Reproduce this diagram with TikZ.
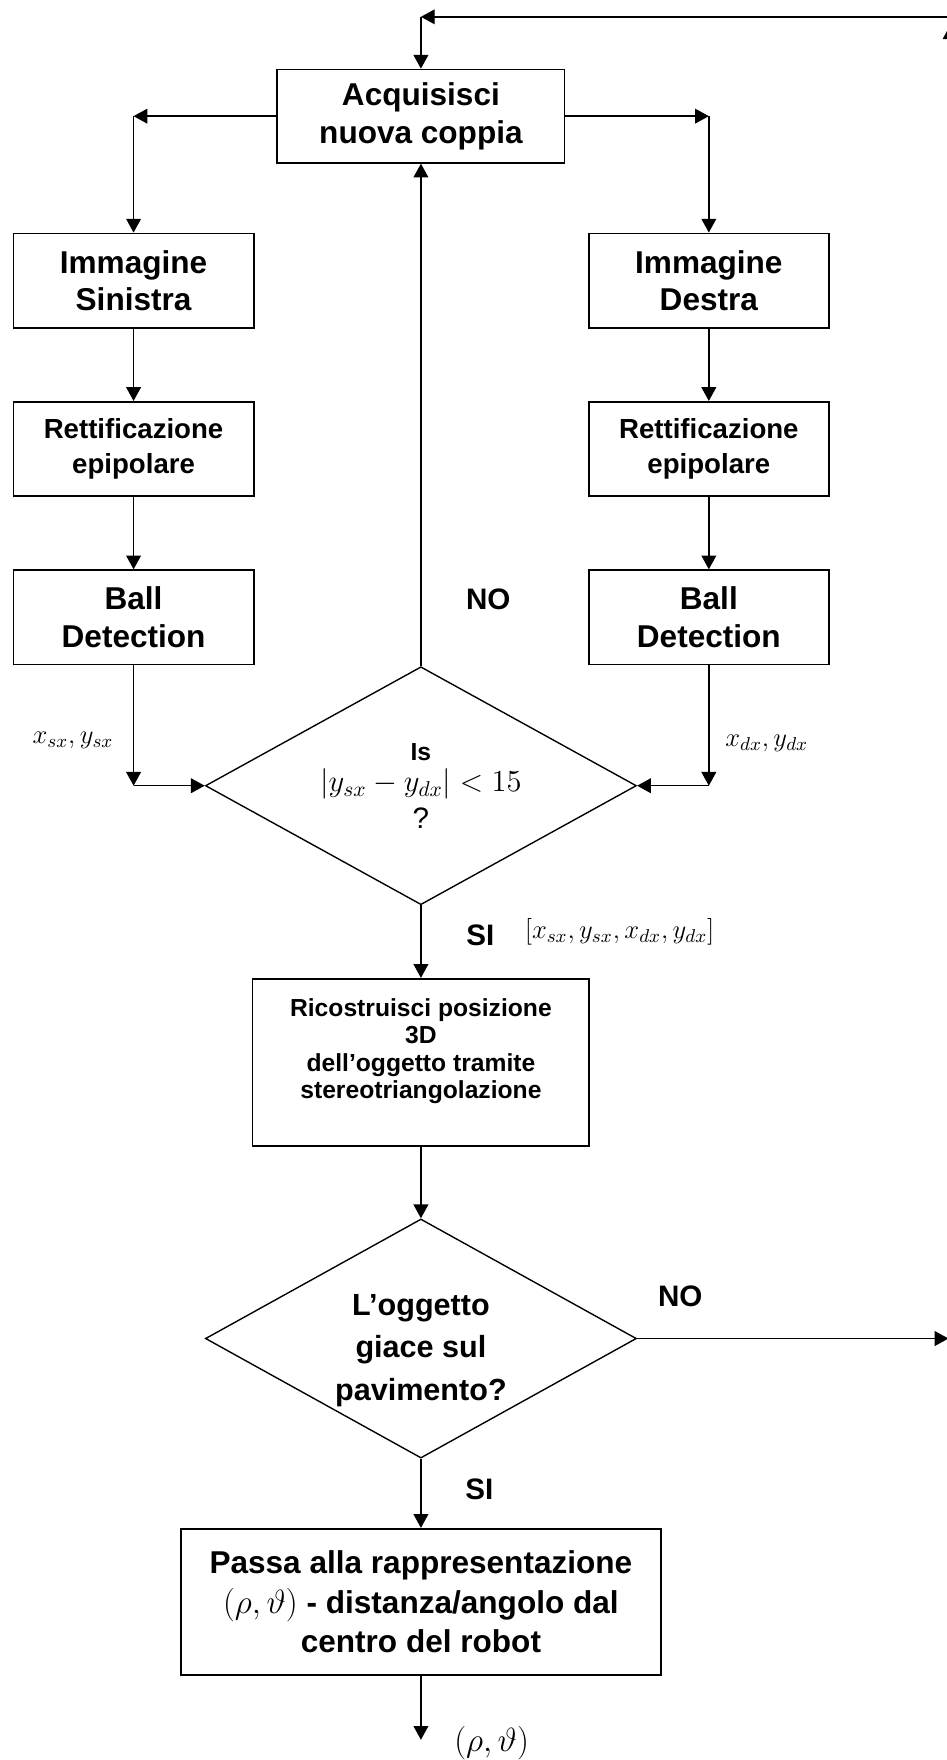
\documentclass[tikz,border=0pt]{standalone}
\usepackage{fix-cm}
\usepackage{amsmath,amssymb}
\usepackage{fontspec}
\setmainfont{Liberation Sans}
\usetikzlibrary{arrows.meta,shapes.geometric}

\begin{document}
\begin{tikzpicture}[x=1cm,y=1cm,>={Triangle[length=7pt,width=7.5pt]},
  bx/.style={draw,line width=0.9pt,rectangle,align=center,inner sep=2pt},
  dm/.style={draw,line width=0.7pt,diamond,aspect=1.81,inner sep=0pt,align=center,
    minimum width=7.68cm,minimum height=4.24cm},
  ln/.style={->,line width=0.7pt},
  big/.style={font=\fontsize{16}{19}\selectfont\bfseries},
  mid/.style={font=\fontsize{14}{18}\selectfont\bfseries},
  sml/.style={font=\fontsize{12.5}{14}\selectfont\bfseries},
  lb/.style={font=\fontsize{15}{18}\selectfont\bfseries},
  ml/.style={font=\fontsize{13.5}{16}\selectfont}]
  \useasboundingbox (0,0) rectangle (16.86,-31.36);

  % acquisition and the two image chains
  \node[bx,big,minimum width=5.12cm,minimum height=1.66cm] (acq) at (7.5,-2.07) {Acquisisci\\nuova coppia};
  \node[bx,big,minimum width=4.28cm,minimum height=1.68cm] (imgS) at (2.38,-5.0) {Immagine\\Sinistra};
  \node[bx,mid,minimum width=4.28cm,minimum height=1.68cm] (retS) at (2.38,-8.0) {Rettificazione\\epipolare};
  \node[bx,big,minimum width=4.28cm,minimum height=1.68cm] (ballS) at (2.38,-11.0) {Ball\\Detection};
  \node[bx,big,minimum width=4.28cm,minimum height=1.68cm] (imgD) at (12.63,-5.0) {Immagine\\Destra};
  \node[bx,mid,minimum width=4.28cm,minimum height=1.68cm] (retD) at (12.63,-8.0) {Rettificazione\\epipolare};
  \node[bx,big,minimum width=4.28cm,minimum height=1.68cm] (ballD) at (12.63,-11.0) {Ball\\Detection};

  % epipolar check, triangulation, floor test
  \node[dm] (cmp) at (7.5,-14.0) {{\fontsize{12.5}{14}\selectfont\bfseries Is}\\[4pt]
    {\fontsize{15.5}{18}\selectfont $\left|y_{sx}-y_{dx}\right|<15$}\\[3pt]
    {\fontsize{15}{18}\selectfont ?}};
  \node[bx,sml,minimum width=6.0cm,minimum height=2.98cm] (rec) at (7.5,-18.93)
    {Ricostruisci posizione\\3D\\dell’oggetto tramite\\stereotriangolazione\\ \mbox{}};
  \node[dm,minimum height=4.26cm] (flr) at (7.5,-23.85) {};
  \node[align=center,font=\fontsize{15.5}{21.5}\selectfont\bfseries] (flrT) at (7.5,-24.06)
    {L’oggetto\\giace sul\\pavimento?};
  \node[bx,big,font=\fontsize{16}{20}\selectfont\bfseries,minimum width=8.56cm,minimum height=2.6cm] (pas) at (7.5,-28.54)
    {Passa alla rappresentazione\\{\fontsize{17}{20}\selectfont$(\rho,\vartheta)$}\ - distanza/angolo dal\\centro del robot};

  % free ends of the connectors
  \coordinate (topL) at (7.5,-0.3);
  \coordinate (topR) at (16.93,-0.3);
  \coordinate (loopT) at (16.93,-0.45);
  \coordinate (loopB) at (16.93,-23.85);
  \coordinate (edgeR) at (16.9,-23.85);
  \coordinate (splitL) at (acq.west -| imgS.north);
  \coordinate (splitR) at (acq.east -| imgD.north);
  \coordinate (joinL) at (ballS.south |- cmp.west);
  \coordinate (joinR) at (ballD.south |- cmp.east);
  \coordinate (outP) at (7.5,-31.0);

  \draw[ln] (flr.east) -- (edgeR);
  \draw[ln] (loopB) -- (loopT);
  \draw[ln] (topR) -- (topL);
  \draw[ln] (topL) -- (acq.north);
  \draw[ln] (acq.west) -- (splitL);
  \draw[ln] (splitL) -- (imgS.north);
  \draw[ln] (acq.east) -- (splitR);
  \draw[ln] (splitR) -- (imgD.north);
  \draw[ln] (imgS) -- (retS);
  \draw[ln] (retS) -- (ballS);
  \draw[ln] (imgD) -- (retD);
  \draw[ln] (retD) -- (ballD);
  \draw[ln] (ballS.south) -- (joinL);
  \draw[ln] (joinL) -- (cmp.west);
  \draw[ln] (ballD.south) -- (joinR);
  \draw[ln] (joinR) -- (cmp.east);
  \draw[ln] (cmp.north) -- (acq.south);
  \draw[ln] (cmp.south) -- (rec.north);
  \draw[ln] (rec.south) -- (flr.north);
  \draw[ln] (flr.south) -- (pas.north);
  \draw[ln] (pas.south) -- (outP);

  % labels on the connectors
  \node[ml] (lS) at (1.3,-13.2) {$x_{sx},y_{sx}$};
  \node[ml] (lD) at (13.66,-13.24) {$x_{dx},y_{dx}$};
  \node[lb] (no1) at (8.7,-10.68) {NO};
  \node[lb] (si1) at (8.56,-16.66) {SI};
  \node[ml] (lV) at (11.04,-16.6) {$[x_{sx},y_{sx},x_{dx},y_{dx}]$};
  \node[lb] (no2) at (12.12,-23.1) {NO};
  \node[lb] (si2) at (8.54,-26.54) {SI};
  \node[font=\fontsize{17}{20}\selectfont] (lP) at (8.76,-31.06) {$(\rho,\vartheta)$};
\end{tikzpicture}
\end{document}
